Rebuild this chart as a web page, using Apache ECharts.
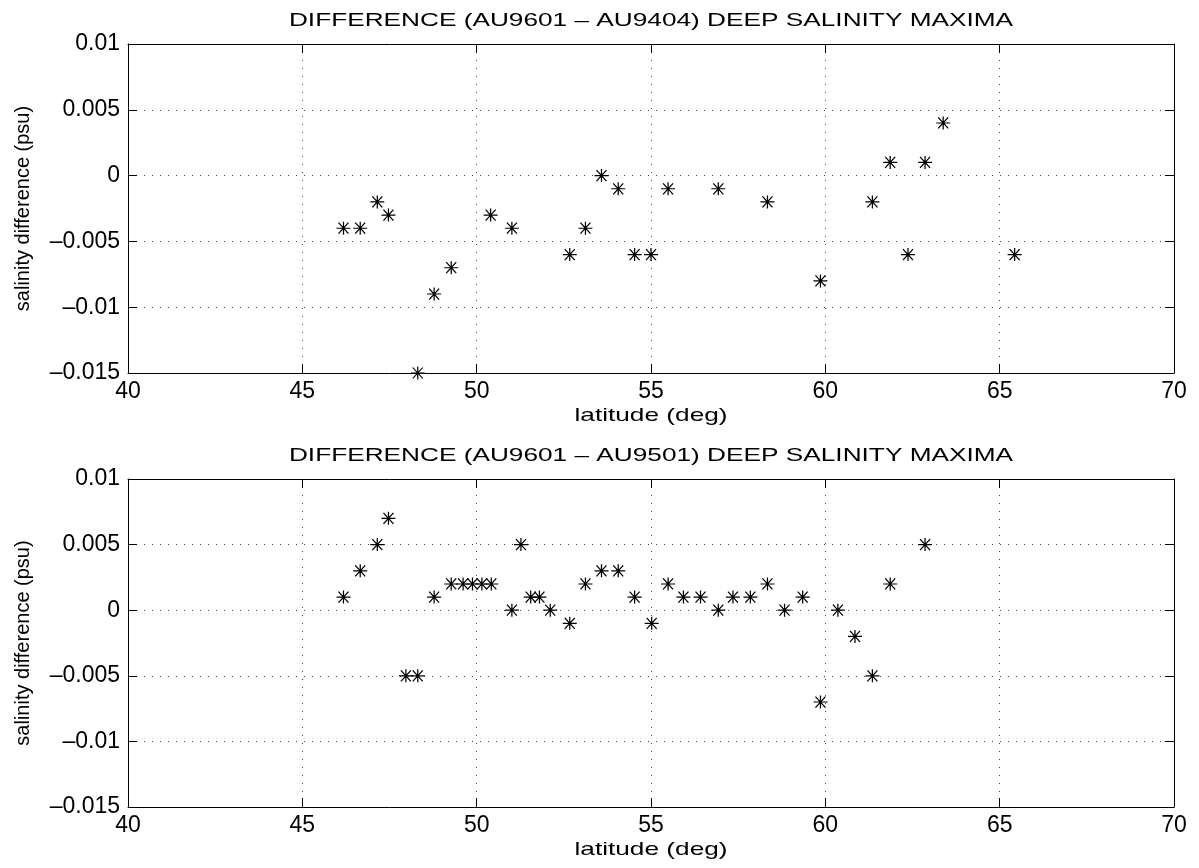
<!DOCTYPE html>
<html lang="en">
<head>
  <meta charset="UTF-8">
  <title>Deep salinity maxima differences</title>
  <style>
    html, body { margin: 0; padding: 0; background: #fff; }
    #chart { width: 1199px; height: 868px; }
  </style>
</head>
<body>
  <div id="chart"></div>

  <script src="https://cdn.jsdelivr.net/npm/echarts@6/dist/echarts.min.js"></script>
  <script>
    // AU9601 - AU9404
    const latTop = [46.18, 46.66, 47.15, 47.47, 48.31, 48.78, 49.27, 50.40, 51.01, 52.67,
      53.12, 53.58, 54.06, 54.53, 55.00, 55.49, 56.93, 58.34, 59.86, 61.35,
      61.86, 62.37, 62.86, 63.38, 65.43];
    const diffTop = [-0.004, -0.004, -0.002, -0.003, -0.015, -0.009, -0.007, -0.003, -0.004, -0.006,
      -0.004, 0, -0.001, -0.006, -0.006, -0.001, -0.001, -0.002, -0.008, -0.002,
      0.001, -0.006, 0.001, 0.004, -0.006];

    // AU9601 - AU9501
    const latBottom = [46.18, 46.66, 47.15, 47.47, 47.97, 48.31, 48.78, 49.27, 49.61, 49.88,
      50.15, 50.42, 51.01, 51.27, 51.55, 51.80, 52.11, 52.67, 53.12, 53.58,
      54.06, 54.53, 55.02, 55.49, 55.93, 56.42, 56.93, 57.35, 57.85, 58.34,
      58.83, 59.35, 59.86, 60.36, 60.85, 61.35, 61.86, 62.86];
    const diffBottom = [0.001, 0.003, 0.005, 0.007, -0.005, -0.005, 0.001, 0.002, 0.002, 0.002,
      0.002, 0.002, 0, 0.005, 0.001, 0.001, 0, -0.001, 0.002, 0.003,
      0.003, 0.001, -0.001, 0.002, 0.001, 0.001, 0, 0.001, 0.001, 0.002,
      0, 0.001, -0.007, 0, -0.002, -0.005, 0.002, 0.005];

    const titles = [
      'DIFFERENCE (AU9601 \u2013 AU9404) DEEP SALINITY MAXIMA',
      'DIFFERENCE (AU9601 \u2013 AU9501) DEEP SALINITY MAXIMA'
    ];
    const yTickLabels = ['\u20130.015', '\u20130.01', '\u20130.005', '0', '0.005', '0.01'];
    const xName = 'latitude (deg)';
    const yName = 'salinity difference (psu)';

    const FONT = '"Liberation Sans", Arial, sans-serif';
    const grids = [
      { left: 128, top: 44, width: 1046, height: 329 },
      { left: 128, top: 479, width: 1046, height: 328 }
    ];

    // MATLAB style '*' marker (plus + cross)
    const star = 'path://M7,0L7,13M0,6.5L14,6.5M2,1L12,12M2,12L12,1';

    const gridLine = { show: true, lineStyle: { color: '#444', width: 1, type: [1, 7] } };
    const frame = { show: true, onZero: false, lineStyle: { color: '#000', width: 1 } };
    const tick = { show: true, inside: true, length: 9, lineStyle: { color: '#000' } };

    const xAxes = [], yAxes = [], series = [], graphics = [];
    [[latTop, diffTop], [latBottom, diffBottom]].forEach(([lat, diff], i) => {
      xAxes.push({
        type: 'value', gridIndex: i, position: 'bottom', min: 40, max: 70, interval: 5,
        axisLine: frame, axisTick: tick, splitLine: gridLine,
        axisLabel: { color: '#000', fontFamily: FONT, fontSize: 23, margin: 7 }
      });
      xAxes.push({
        type: 'value', gridIndex: i, position: 'top', min: 40, max: 70, interval: 5,
        axisLine: frame, axisTick: tick, splitLine: { show: false }, axisLabel: { show: false }
      });
      yAxes.push({
        type: 'value', gridIndex: i, position: 'left', min: -0.015, max: 0.01, interval: 0.005,
        axisLine: frame, axisTick: tick, splitLine: gridLine,
        axisLabel: {
          color: '#000', fontFamily: FONT, fontSize: 23, margin: 8,
          formatter: (v, idx) => yTickLabels[idx]
        },
        name: yName, nameLocation: 'middle', nameGap: 95,
        nameTextStyle: { color: '#000', fontFamily: FONT, fontSize: 20 }
      });
      yAxes.push({
        type: 'value', gridIndex: i, position: 'right', min: -0.015, max: 0.01, interval: 0.005,
        axisLine: frame, axisTick: tick, splitLine: { show: false }, axisLabel: { show: false }
      });
      series.push({
        type: 'scatter', xAxisIndex: i * 2, yAxisIndex: i * 2,
        data: lat.map((x, k) => [x, diff[k]]),
        symbol: star, symbolSize: [14, 13],
        itemStyle: { color: 'rgba(0,0,0,0)', borderColor: '#000', borderWidth: 1.2, opacity: 1 },
        emphasis: { disabled: true }
      });
      const g = grids[i];
      graphics.push({
        type: 'text', x: g.left + g.width / 2, y: g.top - 23, scaleX: 1.38,
        style: {
          text: titles[i], fill: '#000', font: '19px ' + FONT,
          align: 'center', verticalAlign: 'middle'
        }
      });
      graphics.push({
        type: 'text', x: g.left + g.width / 2, y: g.top + g.height + 43, scaleX: 1.38,
        style: {
          text: xName, fill: '#000', font: '19px ' + FONT,
          align: 'center', verticalAlign: 'middle'
        }
      });
    });

    const chart = echarts.init(document.getElementById('chart'));
    chart.setOption({
      animation: false,
      backgroundColor: '#fff',
      grid: grids,
      xAxis: xAxes,
      yAxis: yAxes,
      series: series,
      graphic: graphics
    });
  </script>
</body>
</html>
